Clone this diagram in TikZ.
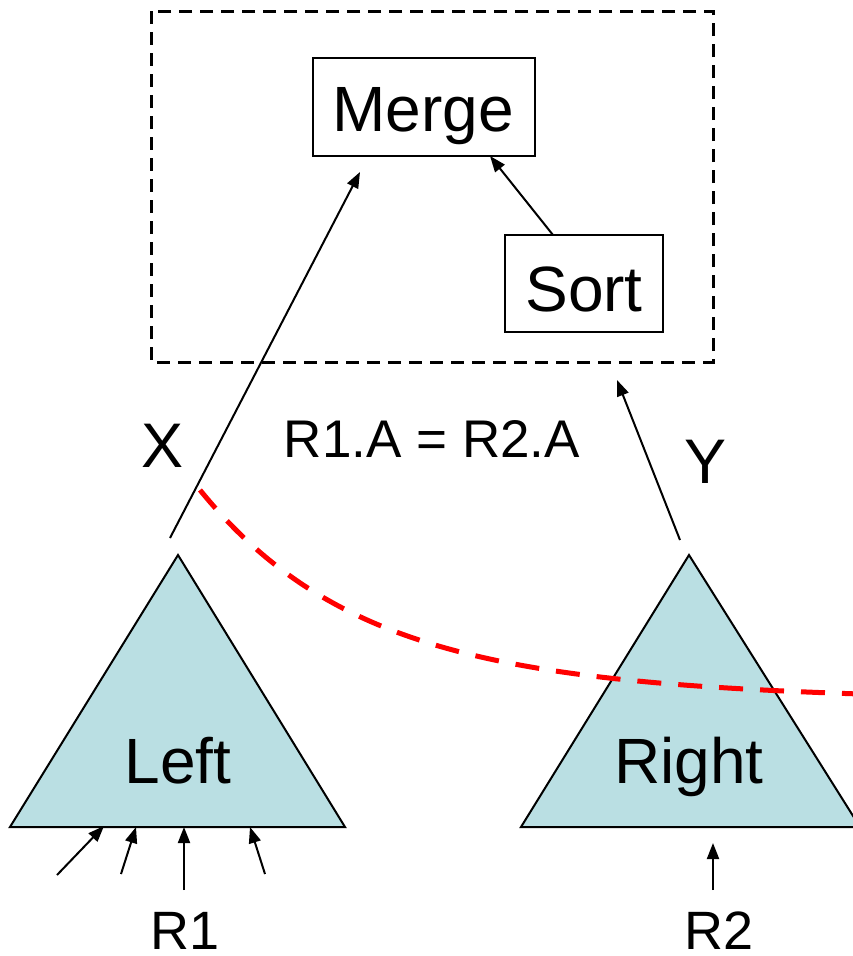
\documentclass[tikz,border=0pt]{standalone}
\usepackage{fontspec}
\setmainfont{Liberation Sans}
\usetikzlibrary{arrows.meta}
\definecolor{tri}{RGB}{186,223,227}
\definecolor{cutred}{RGB}{255,0,0}
\tikzset{
  big/.style={font=\fontsize{64}{68}\selectfont, inner sep=0pt, anchor=base},
  mid/.style={font=\fontsize{63}{66}\selectfont, inner sep=0pt, anchor=base},
  lbl/.style={font=\fontsize{53}{58}\selectfont, inner sep=0pt, anchor=base},
  rel/.style={font=\fontsize{54}{60}\selectfont, inner sep=0pt, anchor=base, text depth=0pt},
  opbox/.style={draw, line width=2pt, inner sep=0pt},
  arr/.style={line width=2pt, -{Triangle[length=16pt,width=12pt]}},
  tree/.style={draw, line width=2pt, fill=tri, line join=miter},
}
\begin{document}
\begin{tikzpicture}[x=1pt,y=-1pt]
\useasboundingbox (0,0) rectangle (853,956);
\clip (0,0) rectangle (853,956);
% dashed group box
\draw[line width=3pt, dash pattern=on 13pt off 8pt] (151,11) rectangle (713,362);
% operator boxes
\node[opbox, minimum width=222pt, minimum height=98pt] (merge) at (424,107) {};
\node[big] (mergetext) at (423,131) {Merge};
\node[opbox, minimum width=158pt, minimum height=97pt] (sort) at (584,283.5) {};
\node[big] (sorttext) at (584,311) {Sort};
% triangles
\draw[tree] (178,555) -- (345,827) -- (10,827) -- cycle;
\draw[tree] (689,555) -- (860,827) -- (521,827) -- cycle;
\node[big] (left) at (178,783) {Left};
\node[big] (right) at (689,783) {Right};
% connectors
\coordinate (xs) at (170,538);
\coordinate (xe) at (360,172);
\draw[arr] (xs) -- (xe);
\coordinate (ss) at (553,235);
\coordinate (se) at (490,156);
\draw[arr] (ss) -- (se);
\coordinate (ys) at (680,540);
\coordinate (ye) at (617,380);
\draw[arr] (ys) -- (ye);
% labels
\node[mid] (xl) at (163,467) {X};
\node[mid] (yl) at (706,483) {Y};
\node[lbl] (cond) at (432,457) {R1.A = R2.A};
% red cut
\draw[cutred, line width=5pt, dash pattern=on 24pt off 17pt] (200,490) .. controls (330,650) and (500,682) .. (860,694);
% inputs
\coordinate (a1) at (57,875); \coordinate (b1) at (104,826);
\coordinate (a2) at (121,874); \coordinate (b2) at (136,827);
\coordinate (a3) at (184,890); \coordinate (b3) at (184,827);
\coordinate (a4) at (265,874); \coordinate (b4) at (250,827);
\coordinate (a5) at (713,890); \coordinate (b5) at (713,843);
\draw[arr] (a1) -- (b1);
\draw[arr] (a2) -- (b2);
\draw[arr] (a3) -- (b3);
\draw[arr] (a4) -- (b4);
\draw[arr] (a5) -- (b5);
\node[rel] (r1) at (185,949) {R1};
\node[rel] (r2) at (719,949) {R2};
\end{tikzpicture}
\end{document}
